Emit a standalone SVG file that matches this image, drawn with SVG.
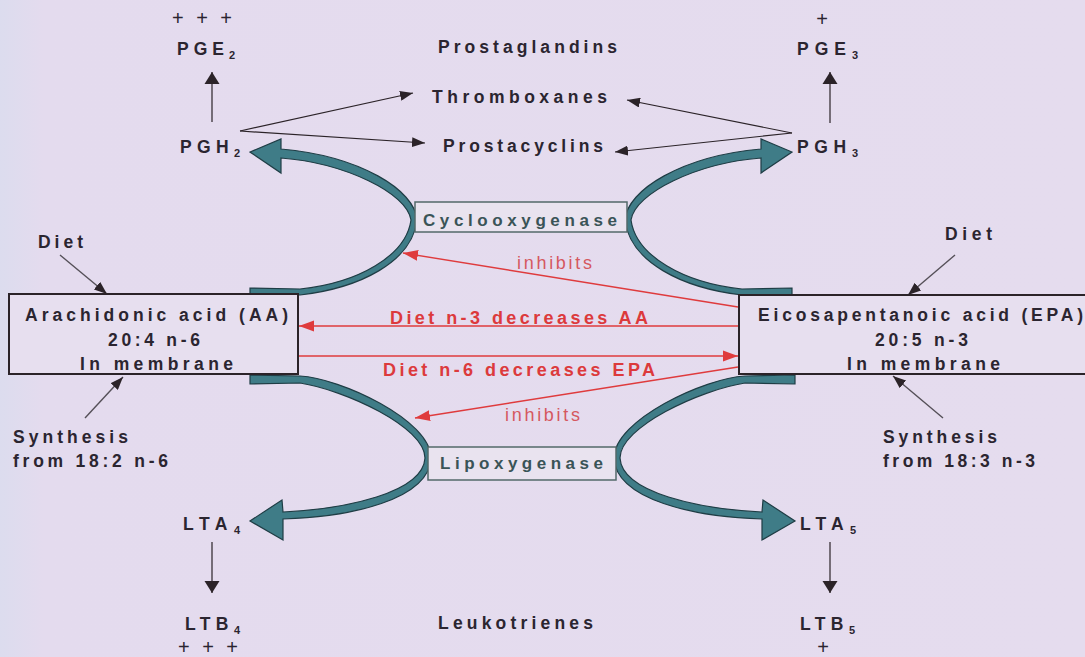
<svg xmlns="http://www.w3.org/2000/svg" width="1085" height="657" viewBox="0 0 1085 657">
  <defs>
    <linearGradient id="bg" x1="0" y1="0" x2="1" y2="0">
      <stop offset="0" stop-color="#dcdcee"/>
      <stop offset="0.04" stop-color="#e4dbee"/>
      <stop offset="1" stop-color="#e5dcee"/>
    </linearGradient>
    <marker id="ah" markerUnits="userSpaceOnUse" markerWidth="14" markerHeight="10" refX="13" refY="5" orient="auto">
      <path d="M0,0 L13,5 L0,10 Z" fill="#2b2328"/>
    </marker>
    <marker id="ahBig" markerUnits="userSpaceOnUse" markerWidth="14" markerHeight="16" refX="12" refY="8" orient="auto">
      <path d="M0,0.5 L12,8 L0,15.5 Z" fill="#2b2328"/>
    </marker>
    <marker id="ahRed" markerUnits="userSpaceOnUse" markerWidth="16" markerHeight="12" refX="15" refY="6" orient="auto">
      <path d="M0,0.5 L15,6 L0,11.5 Z" fill="#df3b3d"/>
    </marker>
    <style>
      .t { font-family: "Liberation Sans", Arial, sans-serif; font-weight: bold; font-size: 17.5px; fill: #2b2530; }
      .sub { font-size: 11px; }
      .plus { font-weight: normal; font-size: 20px; }
      .red { fill: #dc3a3c; font-size: 18px; }
      .inh { font-weight: normal; fill: #d5585f; font-size: 18px; }
      .enz { fill: #3a5457; font-size: 17px; }
      .band { fill: #3f7c87; stroke: #1f3d45; stroke-width: 1.2; stroke-linejoin: miter; }
      .ln { stroke: #2b2328; stroke-width: 1.2; fill: none; }
      .gl { stroke: #555058; stroke-width: 1.4; fill: none; }
      .rl { stroke: #df3b3d; stroke-width: 1.4; fill: none; }
      .box { fill: #e7dfef; stroke: #2b2328; stroke-width: 2; }
      .ebox { fill: #e9e3ef; stroke: #53696a; stroke-width: 1.5; }
    </style>
  </defs>

  <rect x="0" y="0" width="1085" height="657" fill="url(#bg)"/>

  <g id="connectors">
    <g id="pathway-bands">
      <path class="band" d="M250,288 L300,289 C358,283 406,256 411,220 C407,193 345,163 281,158 L281,173 L250,152 L281,139 L281,149 C360,156 415,190 417,220 C412,262 360,288 300,295 L250,295 Z"/>
      <path class="band" transform="translate(1042,0) scale(-1,1)" d="M250,288 L300,289 C358,283 406,256 411,220 C407,193 345,163 281,158 L281,173 L250,152 L281,139 L281,149 C360,156 415,190 417,220 C412,262 360,288 300,295 L250,295 Z"/>
      <path class="band" d="M250,375 L300,376 C340,378 431,420 431,458 C429,500 350,517 283,519 L283,540 L250,521 L282,500 L283,512 C345,509 423,493 425,458 C425,427 345,390 300,383 L250,384 Z"/>
      <path class="band" transform="translate(1045,0) scale(-1,1)" d="M250,375 L300,376 C340,378 431,420 431,458 C429,500 350,517 283,519 L283,540 L250,521 L282,500 L283,512 C345,509 423,493 425,458 C425,427 345,390 300,383 L250,384 Z"/>
    </g>
    <g id="thin-arrows">
      <line class="ln" x1="212" y1="122" x2="212" y2="72" marker-end="url(#ahBig)"/>
      <line class="ln" x1="830" y1="123" x2="830" y2="72" marker-end="url(#ahBig)"/>
      <line class="ln" x1="240" y1="131" x2="413" y2="93" marker-end="url(#ah)"/>
      <line class="ln" x1="240" y1="131" x2="425" y2="143" marker-end="url(#ah)"/>
      <line class="ln" x1="792" y1="133" x2="627" y2="100" marker-end="url(#ah)"/>
      <line class="ln" x1="792" y1="133" x2="615" y2="152" marker-end="url(#ah)"/>
      <line class="ln" x1="212" y1="542" x2="212" y2="593" marker-end="url(#ahBig)"/>
      <line class="ln" x1="830" y1="542" x2="830" y2="593" marker-end="url(#ahBig)"/>
      <line class="gl" x1="60" y1="255" x2="107" y2="294" marker-end="url(#ah)"/>
      <line class="gl" x1="85" y1="418" x2="123" y2="377" marker-end="url(#ah)"/>
      <line class="gl" x1="955" y1="255" x2="908" y2="295" marker-end="url(#ah)"/>
      <line class="gl" x1="943" y1="418" x2="893" y2="376" marker-end="url(#ah)"/>
    </g>
    <g id="red-arrows">
      <line class="rl" x1="738" y1="307" x2="403" y2="253" marker-end="url(#ahRed)"/>
      <line class="rl" x1="739" y1="326" x2="299" y2="326" marker-end="url(#ahRed)"/>
      <line class="rl" x1="299" y1="356" x2="738" y2="356" marker-end="url(#ahRed)"/>
      <line class="rl" x1="738" y1="367" x2="415" y2="418" marker-end="url(#ahRed)"/>
    </g>
  </g>

  <g id="aa">
    <rect class="box" x="9" y="294" width="289" height="80"/>
    <text class="t" x="25" y="321" textLength="263">Arachidonic acid (AA)</text>
    <text class="t" x="108" y="346" textLength="92">20:4 n-6</text>
    <text class="t" x="80" y="370" textLength="153">In membrane</text>
  </g>
  <g id="epa">
    <rect class="box" x="739" y="295" width="362" height="79"/>
    <text class="t" x="758" y="321" textLength="325">Eicosapentanoic acid (EPA)</text>
    <text class="t" x="875" y="346" textLength="93">20:5 n-3</text>
    <text class="t" x="847" y="370" textLength="153">In membrane</text>
  </g>
  <g id="cyclooxygenase">
    <rect class="ebox" x="415" y="202" width="212" height="30"/>
    <text class="t enz" x="423" y="226" textLength="194">Cyclooxygenase</text>
  </g>
  <g id="lipoxygenase">
    <rect class="ebox" x="428" y="447" width="188" height="33"/>
    <text class="t enz" x="440" y="469" textLength="163">Lipoxygenase</text>
  </g>

  <g id="pge2">
    <text class="t plus" x="172" y="25" textLength="60">+ + +</text>
    <text class="t" x="177" y="55" textLength="58">PGE<tspan class="sub" dy="4">2</tspan></text>
  </g>
  <g id="pgh2"><text class="t" x="180" y="153" textLength="60">PGH<tspan class="sub" dy="4">2</tspan></text></g>
  <g id="prostaglandins"><text class="t" x="438" y="53" textLength="179">Prostaglandins</text></g>
  <g id="thromboxanes"><text class="t" x="432" y="103" textLength="175">Thromboxanes</text></g>
  <g id="prostacyclins"><text class="t" x="443" y="152" textLength="160">Prostacyclins</text></g>
  <g id="pge3">
    <text class="t plus" x="822" y="26" text-anchor="middle">+</text>
    <text class="t" x="797" y="55" textLength="61">PGE<tspan class="sub" dy="4">3</tspan></text>
  </g>
  <g id="pgh3"><text class="t" x="797" y="153" textLength="61">PGH<tspan class="sub" dy="4">3</tspan></text></g>

  <g id="diet-left"><text class="t" x="38" y="248" textLength="45">Diet</text></g>
  <g id="diet-right"><text class="t" x="945" y="240" textLength="47">Diet</text></g>
  <g id="synthesis-left">
    <text class="t" x="13" y="443" textLength="115">Synthesis</text>
    <text class="t" x="13" y="467" textLength="155">from 18:2 n-6</text>
  </g>
  <g id="synthesis-right">
    <text class="t" x="883" y="443" textLength="114">Synthesis</text>
    <text class="t" x="883" y="467" textLength="152">from 18:3 n-3</text>
  </g>

  <g id="labels-red">
    <text class="t inh" x="517" y="269" textLength="75">inhibits</text>
    <text class="t red" x="390" y="324" textLength="258">Diet n-3 decreases AA</text>
    <text class="t red" x="383" y="376" textLength="272">Diet n-6 decreases EPA</text>
    <text class="t inh" x="505" y="421" textLength="75">inhibits</text>
  </g>

  <g id="lta4"><text class="t" x="183" y="530" textLength="57">LTA<tspan class="sub" dy="4">4</tspan></text></g>
  <g id="lta5"><text class="t" x="800" y="530" textLength="56">LTA<tspan class="sub" dy="4">5</tspan></text></g>
  <g id="leukotrienes"><text class="t" x="438" y="629" textLength="155">Leukotrienes</text></g>
  <g id="ltb4">
    <text class="t" x="185" y="630" textLength="55">LTB<tspan class="sub" dy="4">4</tspan></text>
    <text class="t plus" x="178" y="654" textLength="60">+ + +</text>
  </g>
  <g id="ltb5">
    <text class="t" x="800" y="630" textLength="55">LTB<tspan class="sub" dy="4">5</tspan></text>
    <text class="t plus" x="823" y="654" text-anchor="middle">+</text>
  </g>
</svg>
